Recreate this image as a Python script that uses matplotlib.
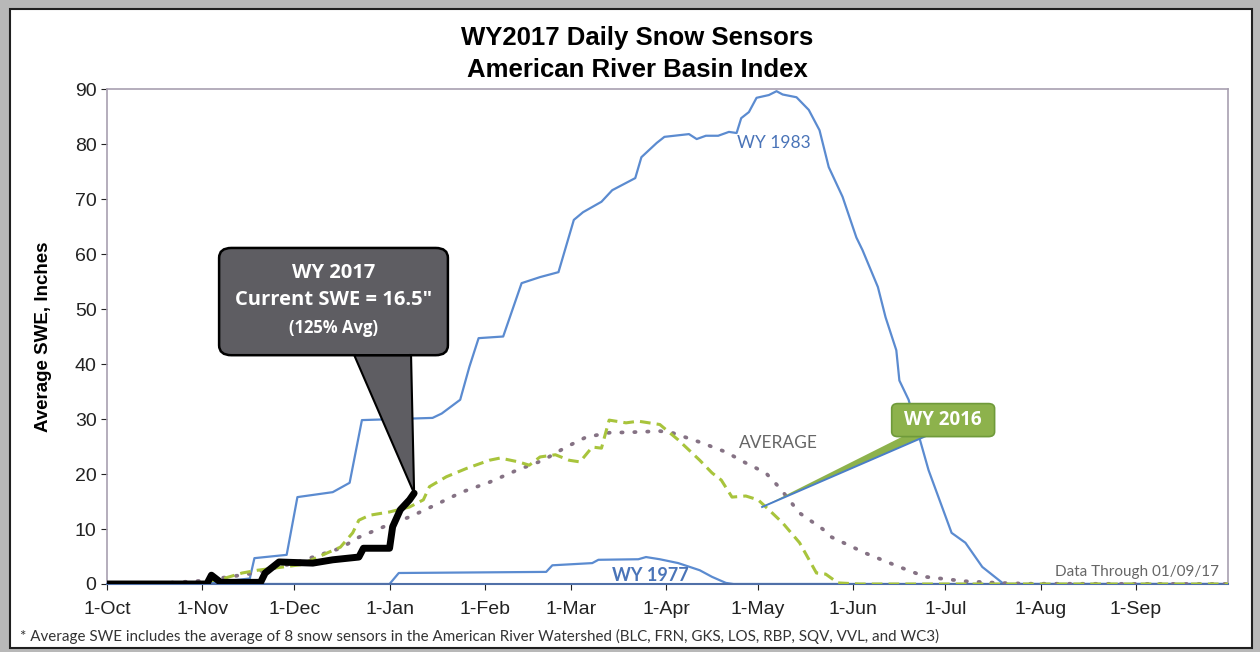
import matplotlib
matplotlib.use("Agg")
import matplotlib.pyplot as plt
from matplotlib.patches import FancyBboxPatch, Polygon, Rectangle

# ---- Data (day of water year, SWE inches) ----
month_days = [0, 31, 61, 92, 123, 151, 182, 212, 243, 273, 304, 335]
month_labels = ["1-Oct", "1-Nov", "1-Dec", "1-Jan", "1-Feb", "1-Mar",
                "1-Apr", "1-May", "1-Jun", "1-Jul", "1-Aug", "1-Sep"]

wy1983_day = [0, 30, 46.5, 48, 58.5, 62, 73.5, 79, 83, 106, 109, 115, 118, 121,
              129, 135, 141, 147, 152, 155, 161, 164.5, 172, 174, 179, 181.5,
              189.5, 192, 195, 199, 202.5, 205, 206.5, 209, 211.5, 215.5, 218,
              220, 224.5, 228.5, 232, 235, 239.5, 244, 246, 251, 253.5, 257,
              258, 261, 267.5, 275, 279.5, 285, 292, 365]
wy1983_swe = [0, 0, 1.0, 4.7, 5.3, 15.8, 16.7, 18.4, 29.8, 30.2, 31, 33.5, 39.5,
              44.7, 45, 54.7, 55.8, 56.7, 66.2, 67.6, 69.5, 71.6, 73.8, 77.6,
              80.2, 81.3, 81.8, 80.9, 81.5, 81.5, 82.2, 82, 84.7, 85.8, 88.4,
              88.9, 89.6, 89, 88.5, 86.2, 82.5, 75.8, 70.4, 63, 60.7, 54, 48.5,
              42.5, 37, 33.5, 20.7, 9.3, 7.5, 3.1, 0, 0]

wy1977_day = [0, 92, 95, 143, 145, 158, 160, 173, 175.5, 180, 186, 193, 197,
              201.5, 204, 365]
wy1977_swe = [0, 0, 2.0, 2.2, 3.4, 3.8, 4.4, 4.5, 4.9, 4.5, 3.8, 2.5, 1.3,
              0.2, 0, 0]

wy2016_day = [0, 28, 38, 44, 49, 56, 63, 71.5, 76, 80, 82, 85.5, 92, 98.5, 103,
              105, 110.5, 117, 124.5, 128, 134, 137.5, 141, 146, 150.5, 154,
              158, 161, 163.5, 169, 173, 180, 183, 186, 193, 197, 200, 203.5,
              208, 212, 215.5, 220, 225.5, 231, 234, 238, 245, 365]
wy2016_swe = [0, 0, 1, 2, 2.5, 3, 3.5, 5.6, 6.7, 9.3, 11.6, 12.5, 13.1, 14,
              15.3, 17.7, 19.5, 21, 22.5, 22.9, 22.2, 21.6, 23.1, 23.5, 22.5,
              22.2, 24.9, 24.7, 29.8, 29.3, 29.6, 29, 27.6, 26.2, 22.5, 20.2,
              18.9, 15.8, 16, 15.3, 13.5, 11.1, 7.5, 2, 1.8, 0.2, 0, 0]

avg_day = [0, 20, 31, 46, 61, 76, 82, 90.5, 99, 107, 115.5, 124.5, 133.5, 142,
           149.5, 156, 163.5, 171, 180, 184, 193, 201.5, 208, 214.5, 219,
           225.5, 233, 236, 247, 258, 266.5, 279.5, 290, 300, 365]
avg_swe = [0, 0.2, 0.6, 1.8, 3.8, 6.5, 8.5, 10.5, 12.3, 14.4, 16.7, 18.5, 20.7,
           22.5, 24.9, 26.7, 27.5, 27.6, 27.8, 27.5, 25.8, 24, 22, 20.2, 17.5,
           12.9, 10.0, 8.5, 5.6, 3.1, 1.3, 0.5, 0.2, 0.05, 0]

wy2017_day = [0, 32.5, 34, 37, 50, 51.5, 56, 67, 73.5, 82, 83.5, 92, 93, 95.5,
              98.5, 100]
wy2017_swe = [0, 0, 1.6, 0.3, 0.3, 2, 4, 3.8, 4.4, 4.9, 6.5, 6.5, 10.4, 13.5,
              15.3, 16.5]

# ---- Figure ----
W, H = 1260, 652
fig = plt.figure(figsize=(W / 100, H / 100), dpi=100, facecolor="#b8b8b8")
plt.rcParams["font.family"] = ["Liberation Sans", "DejaVu Sans"]

# white chart frame
fig.patches.append(Rectangle((10 / W, 1 - 648 / H), (1252 - 10) / W, (648 - 9) / H,
                             transform=fig.transFigure, facecolor="white",
                             edgecolor="#202020", linewidth=1.5, zorder=-10))

ax = fig.add_axes([107 / W, 1 - 584 / H, (1228 - 107) / W, (584 - 89) / H])
ax.set_facecolor("none")
ax.set_zorder(5)

blue = "#5b8bd0"
ax.plot(wy1977_day, wy1977_swe, color=blue, lw=1.6, zorder=2)
ax.plot(wy1983_day, wy1983_swe, color=blue, lw=1.6, zorder=2)
ax.plot(avg_day, avg_swe, color="#857284", lw=2.7, linestyle=(0, (0.35, 3.1)),
        dash_capstyle="round", zorder=3)
ax.plot(wy2016_day, wy2016_swe, color="#a8c43c", lw=2.2, linestyle=(0, (3.5, 2)),
        zorder=3)
ax.plot(wy2017_day, wy2017_swe, color="black", lw=5, solid_capstyle="round",
        solid_joinstyle="round", zorder=4)

ax.set_xlim(0, 365)
ax.set_ylim(0, 90)
ax.set_xticks(month_days)
ax.set_xticklabels(month_labels)
ax.set_yticks(range(0, 91, 10))
ax.tick_params(axis="both", labelsize=14, colors="#222222", length=4,
               direction="out", width=0.8)
ax.tick_params(axis="x", pad=8)
for s in ["left", "top", "right"]:
    ax.spines[s].set_color("#a8a0b0")
    ax.spines[s].set_linewidth(1.2)
ax.spines["bottom"].set_color("#5070a8")
ax.spines["bottom"].set_linewidth(1.5)

ax.set_ylabel("Average SWE, Inches", fontsize=13.5, fontweight="bold",
              labelpad=16)

fig.text(637 / W, 1 - 38 / H, "WY2017 Daily Snow Sensors", ha="center",
         va="center", fontsize=18.5, fontweight="bold")
fig.text(637 / W, 1 - 70 / H, "American River Basin Index", ha="center",
         va="center", fontsize=18.5, fontweight="bold")

# series labels
ax.text(217, 80.2, "WY 1983", color="#4a74b8", fontsize=12.5,
        family=["Lato", "DejaVu Sans"], ha="center", va="center")
ax.text(177, 1.6, "WY 1977", color="#4a74b8", fontsize=13, fontweight="bold",
        family=["Lato", "DejaVu Sans"], ha="center", va="center")
ax.text(218.5, 25.6, "AVERAGE", color="#666666", fontsize=12.5,
        family=["Lato", "DejaVu Sans"], ha="center", va="center")
ax.text(362, 2.2, "Data Through 01/09/17", color="#666666", fontsize=11,
        family=["Lato", "DejaVu Sans"], ha="right", va="center")

# WY 2017 callout
tip_x, tip_y = wy2017_day[-1], wy2017_swe[-1]
gray = "#5e5d62"
ptr = Polygon([[80.5, 41.6], [99, 41.6], [tip_x, tip_y]], closed=True,
              facecolor=gray, edgecolor="black", lw=1.5, zorder=5)
ax.add_patch(ptr)
box = FancyBboxPatch((36.5, 41.6), 74.5, 19.5,
                     boxstyle="round,pad=0,rounding_size=4",
                     mutation_aspect=0.45,
                     facecolor=gray, edgecolor="black", lw=1.8, zorder=6)
ax.add_patch(box)
ax.add_patch(Polygon([[81.2, 41.9], [98.4, 41.9], [98.4, 43.5], [81.2, 43.5]],
                     closed=True, facecolor=gray, edgecolor="none", zorder=7))
ax.text(73.8, 56.6, "WY 2017", color="white", fontsize=14.5, fontweight="bold",
        family=["Open Sans", "DejaVu Sans"], ha="center", va="center", zorder=8)
ax.text(73.8, 51.7, "Current SWE = 16.5\"", color="white", fontsize=14.5,
        fontweight="bold", family=["Open Sans", "DejaVu Sans"], ha="center",
        va="center", zorder=8)
ax.text(73.8, 46.6, "(125% Avg)", color="white", fontsize=12,
        fontweight="bold", family=["Open Sans", "DejaVu Sans"], ha="center",
        va="center", zorder=8)

# WY 2016 callout
green = "#8db24c"
tip2 = (213.3, 14.0)
ax.add_patch(Polygon([[259, 26.8], [267.5, 27.1], tip2], closed=True,
                     facecolor=green, edgecolor="none", zorder=5))
ax.plot([tip2[0], 267.5], [tip2[1], 27.1], color="#4a7ec8", lw=1.4, zorder=5)
ax.add_patch(FancyBboxPatch((255.5, 26.8), 33.5, 6.0,
                            boxstyle="round,pad=0,rounding_size=2",
                            mutation_aspect=0.45,
                            facecolor=green, edgecolor="#6f9a3a", lw=1.2,
                            zorder=6))
ax.text(272.2, 29.8, "WY 2016", color="white", fontsize=13.5, fontweight="bold",
        family=["Open Sans", "DejaVu Sans"], ha="center", va="center", zorder=8)

# footnote
fig.text(20 / W, 1 - 636 / H,
         "* Average SWE includes the average of 8 snow sensors in the American "
         "River Watershed (BLC, FRN, GKS, LOS, RBP, SQV, VVL, and WC3)",
         fontsize=10.9, color="#333333", family=["Lato", "DejaVu Sans"],
         ha="left", va="center")

fig.savefig("out.png", dpi=100, facecolor=fig.get_facecolor())
